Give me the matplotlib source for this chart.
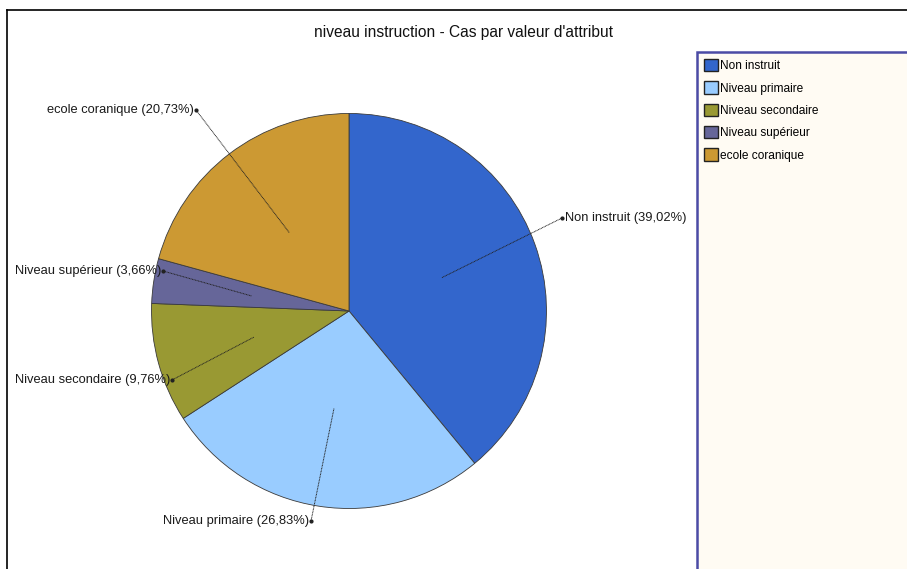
import numpy as np
import matplotlib.pyplot as plt
from matplotlib.patches import Rectangle
from matplotlib.lines import Line2D

# --- Data ---
categories = ["Non instruit", "Niveau primaire", "Niveau secondaire",
              "Niveau supérieur", "ecole coranique"]
percentages = [39.02, 26.83, 9.76, 3.66, 20.73]
colors = ["#3366CC", "#99CCFF", "#999933", "#666699", "#CC9933"]
chart_title = "niveau instruction - Cas par valeur d'attribut"

# label anchor points (pixels, top-left origin) and alignment
label_points = [(562, 218), (311, 521), (172, 380), (163, 271), (196, 110)]
label_align = ["left", "right", "right", "right", "right"]

W, H = 907, 569
plt.rcParams['font.family'] = ['Liberation Sans', 'DejaVu Sans']

fig = plt.figure(figsize=(W / 100, H / 100), dpi=100)
ax = fig.add_axes([0, 0, 1, 1])

cx, cy, r = 349, H - 311, 197.5
wedges, _ = ax.pie(percentages, colors=colors, startangle=90, counterclock=False,
                   center=(cx, cy), radius=r, frame=True,
                   wedgeprops=dict(edgecolor='#3a3a3a', linewidth=0.6))
ax.set_xlim(0, W)
ax.set_ylim(0, H)
ax.set_aspect('equal')
ax.axis('off')

# leader lines + labels
for w, cat, pct, (px, py), ha in zip(wedges, categories, percentages, label_points, label_align):
    ang = np.deg2rad((w.theta1 + w.theta2) / 2)
    x0 = cx + 0.5 * r * np.cos(ang)
    y0 = cy + 0.5 * r * np.sin(ang)
    x1, y1 = px, H - py
    ax.plot([x0, x1], [y0, y1], color='#222222', lw=0.7, linestyle=(0, (1, 0.6)), zorder=3)
    ax.plot([x1], [y1], marker='o', ms=2, color='#222222', zorder=4)
    label = f"{cat} ({pct:.2f}%)".replace('.', ',')
    dx = 3 if ha == 'left' else -2
    ax.text(x1 + dx, y1, label, ha=ha, va='center', fontsize=9.3, color='#1a1a1a', zorder=5)

# title
ax.text(463, H - 32, chart_title, ha='center', va='center', fontsize=11.2, color='#111111')

# outer frame (left and top edges)
ax.add_line(Line2D([7, 7], [0, H - 10], color='black', lw=1.2))
ax.add_line(Line2D([7, W], [H - 10, H - 10], color='black', lw=1.2))

# legend box
ax.add_patch(Rectangle((697, -5), 230, H - 52 + 5, facecolor='#FFFBF3',
                       edgecolor='#4B4BA5', lw=1.8, zorder=1))
leg = ax.legend(wedges, categories, loc='upper left',
                bbox_to_anchor=(704 / W, 1 - 59 / H), frameon=False,
                fontsize=8.6, handlelength=1.2, handleheight=1.2,
                handletextpad=0.12, labelspacing=0.77, borderpad=0, borderaxespad=0)
for h in leg.legend_handles:
    h.set_edgecolor('#222222')
    h.set_linewidth(1.0)

fig.savefig("out.png", dpi=100)
